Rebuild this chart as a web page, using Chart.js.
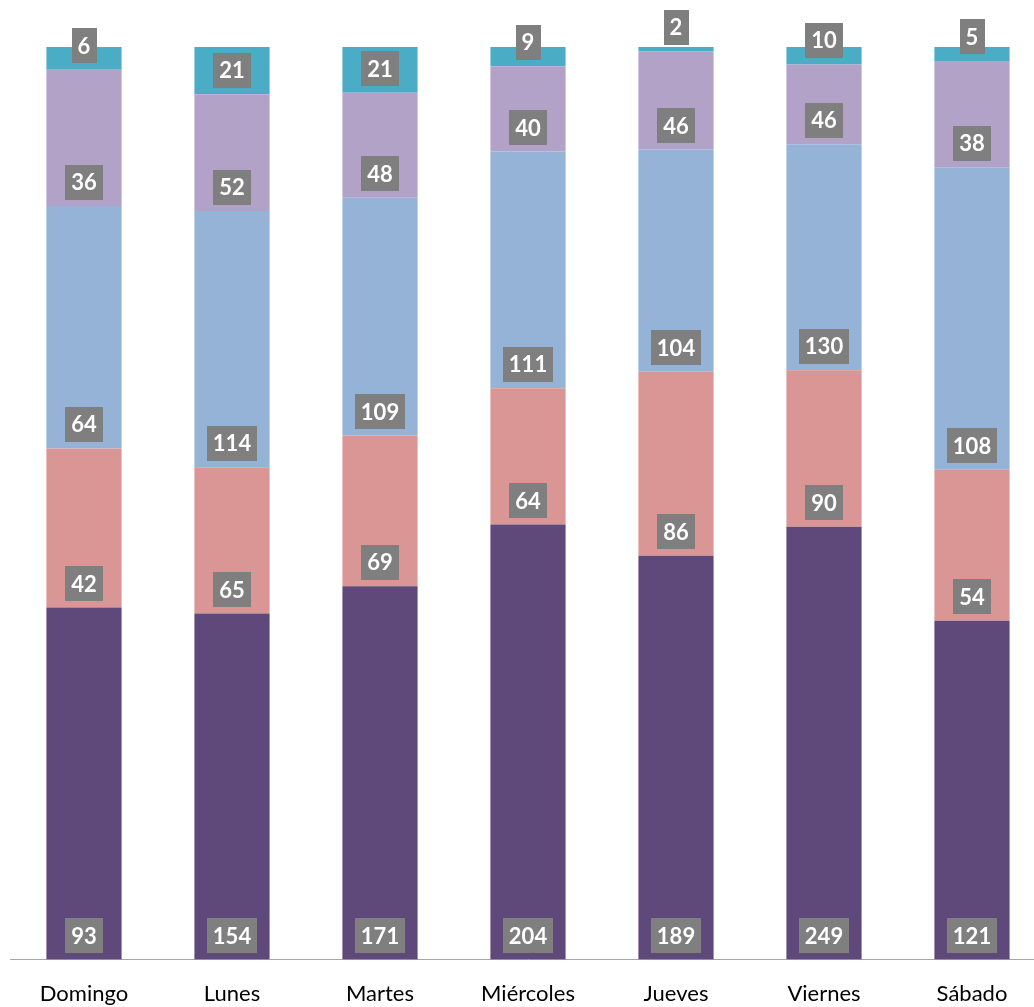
<!DOCTYPE html>
<html>
<head>
<meta charset="utf-8">
<script src="https://cdn.jsdelivr.net/npm/chart.js@4.4.1/dist/chart.umd.min.js"></script>
<style>
  html, body { margin: 0; padding: 0; background: #fff; overflow: hidden; }
  #wrap { width: 1046px; height: 1029px; position: relative; }
</style>
</head>
<body>
<div id="wrap"><canvas id="grafico"></canvas></div>
<script>
// Días y valores por serie (de abajo hacia arriba en cada barra)
const dias = ['Domingo', 'Lunes', 'Martes', 'Miércoles', 'Jueves', 'Viernes', 'Sábado'];
const serie1 = [93, 154, 171, 204, 189, 249, 121];
const serie2 = [42, 65, 69, 64, 86, 90, 54];
const serie3 = [64, 114, 109, 111, 104, 130, 108];
const serie4 = [36, 52, 48, 40, 46, 46, 38];
const serie5 = [6, 21, 21, 9, 2, 10, 5];

const series = [serie1, serie2, serie3, serie4, serie5];
const colores = ['#5f497a', '#d99694', '#95b3d7', '#b3a2c7', '#4bacc6'];

// Totales por día -> barras al 100%
const totales = dias.map((_, i) => series.reduce((a, s) => a + s[i], 0));

// Etiquetas: caja gris cerca de la base de cada segmento
const etiquetas = {
  id: 'etiquetas',
  afterDatasetsDraw(chart) {
    const ctx = chart.ctx;
    ctx.save();
    ctx.font = 'bold 22px Lato, "Open Sans", sans-serif';
    ctx.textAlign = 'center';
    ctx.textBaseline = 'middle';
    chart.data.datasets.forEach((ds, di) => {
      const meta = chart.getDatasetMeta(di);
      meta.data.forEach((bar, i) => {
        const txt = String(ds.valores[i]);
        const w = ctx.measureText(txt).width + 12;
        const h = 35;
        const cy = bar.base - 24;
        ctx.fillStyle = '#7f7f7f';
        ctx.fillRect(Math.round(bar.x - w / 2), Math.round(cy - h / 2), Math.round(w), h);
        ctx.fillStyle = '#ffffff';
        ctx.fillText(txt, bar.x, cy + 1);
      });
    });
    ctx.restore();
  }
};

new Chart(document.getElementById('grafico'), {
  type: 'bar',
  data: {
    labels: dias,
    datasets: series.map((s, k) => ({
      label: 'Serie ' + (k + 1),
      valores: s,
      data: s.map((v, i) => v / totales[i] * 100),
      backgroundColor: colores[k],
      borderWidth: 0,
      categoryPercentage: 1,
      barPercentage: 0.508,
    })),
  },
  options: {
    responsive: true,
    maintainAspectRatio: false,
    animation: false,
    layout: { padding: { left: 10, right: 0, top: 47, bottom: 1 } },
    plugins: { legend: { display: false }, tooltip: { enabled: false } },
    scales: {
      x: {
        stacked: true,
        grid: { display: false, drawTicks: false },
        border: { display: true, color: '#a6a6a6', width: 1 },
        ticks: { color: '#000', padding: 21, font: { family: 'Lato, "Open Sans", sans-serif', size: 22 } },
      },
      y: {
        stacked: true,
        display: false,
        min: 0,
        max: 100,
      },
    },
  },
  plugins: [etiquetas],
});
</script>
</body>
</html>
